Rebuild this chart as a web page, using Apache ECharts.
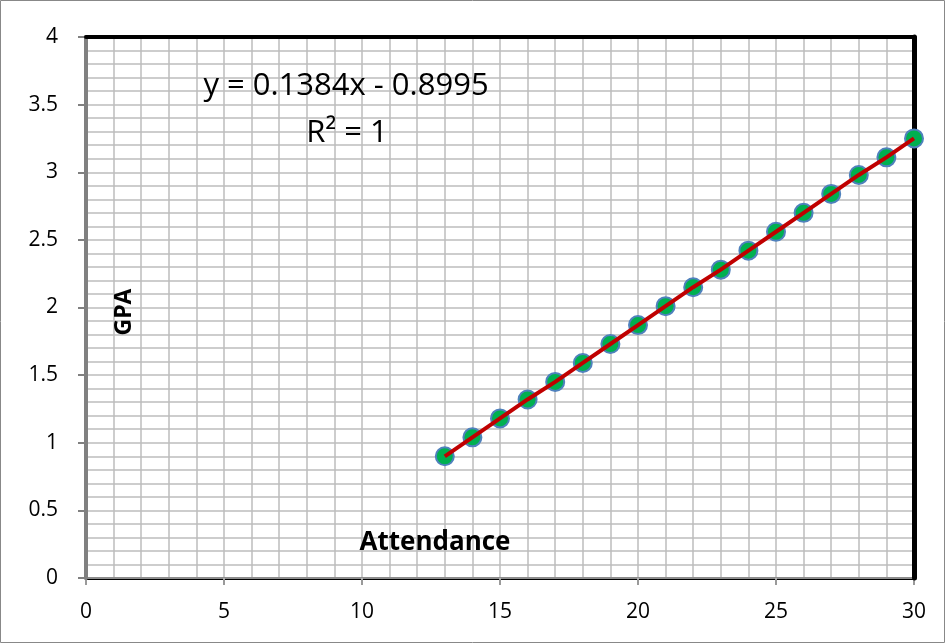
<!DOCTYPE html>
<html><head><meta charset="utf-8">
<script src="https://cdn.jsdelivr.net/npm/echarts@6/dist/echarts.min.js"></script>
<style>html,body{margin:0;padding:0;background:#fff}#c{width:945px;height:643px}</style>
</head><body><div id="c"></div>
<script>
var attendance = [13,14,15,16,17,18,19,20,21,22,23,24,25,26,27,28,29,30];
var gpa = [0.90,1.04,1.18,1.32,1.45,1.59,1.73,1.87,2.01,2.15,2.28,2.42,2.56,2.70,2.84,2.98,3.11,3.25];
var xTicks = [0,5,10,15,20,25,30];
var yTicks = [0,0.5,1,1.5,2,2.5,3,3.5,4];
var equationText = 'y = 0.1384x - 0.8995';
var r2Text = 'R² = 1';
var xTitle = 'Attendance';
var yTitle = 'GPA';

var pts = attendance.map(function(x,i){return [x,gpa[i]];});
var font = 'Open Sans';
var gridCol = '#bdbdbd';
var chart = echarts.init(document.getElementById('c'));
chart.setOption({
  animation:false,
  grid:{left:86,right:31,top:37,bottom:65,show:false},
  xAxis:[{type:'value',min:0,max:30,interval:5,
    axisLine:{show:true,onZero:false,lineStyle:{color:'#000',width:3}},
    axisTick:{show:true,length:7,lineStyle:{color:'#9a9a9a',width:2}},
    axisLabel:{fontFamily:font,fontSize:21,color:'#000',margin:24,
      formatter:function(v){return xTicks.indexOf(v)>=0?String(v):'';}},
    splitLine:{show:true,lineStyle:{color:gridCol,width:1.5}},
    minorTick:{show:false,splitNumber:5},
    minorSplitLine:{show:true,lineStyle:{color:gridCol,width:1.5}},
    z:5
  },{type:'value',min:0,max:30,position:'top',
    axisLine:{show:true,onZero:false,lineStyle:{color:'#000',width:4}},
    axisTick:{show:false},axisLabel:{show:false},splitLine:{show:false},z:20
  }],
  yAxis:[{type:'value',min:0,max:4,interval:0.5,
    axisLine:{show:true,onZero:false,lineStyle:{color:'#808080',width:4}},
    axisTick:{show:true,length:8,lineStyle:{color:'#808080',width:2}},
    axisLabel:{fontFamily:font,fontSize:21,color:'#000',margin:28,
      formatter:function(v){return yTicks.indexOf(v)>=0?String(v):'';}},
    splitLine:{show:true,lineStyle:{color:gridCol,width:1.5}},
    minorTick:{show:false,splitNumber:5},
    minorSplitLine:{show:true,lineStyle:{color:gridCol,width:1.5}},
    z:6
  },{type:'value',min:0,max:4,position:'right',
    axisLine:{show:true,onZero:false,lineStyle:{color:'#000',width:5}},
    axisTick:{show:false},axisLabel:{show:false},splitLine:{show:false},z:20
  }],
  series:[
    {type:'scatter',data:pts,symbolSize:18,itemStyle:{color:'#00b050',borderColor:'#4f81bd',borderWidth:2,opacity:1},z:30},
    {type:'line',data:pts,showSymbol:false,symbol:'none',lineStyle:{color:'#c00000',width:4},z:31}
  ],
  graphic:[
    {type:'rect',shape:{x:0.5,y:0.5,width:944,height:642},style:{fill:'none',stroke:'#888',lineWidth:1},z:100},
    {type:'text',x:346,y:86,style:{text:equationText,textAlign:'center',textVerticalAlign:'middle',font:'31px "'+font+'"',fill:'#000'},z:10},
    {type:'text',x:347,y:133,style:{text:r2Text,textAlign:'center',textVerticalAlign:'middle',font:'31px "'+font+'"',fill:'#000'},z:10},
    {type:'text',x:435,y:543,style:{text:xTitle,textAlign:'center',textVerticalAlign:'middle',font:'bold 26px "'+font+'"',fill:'#000'},z:10},
    {type:'text',rotation:Math.PI/2,x:124,y:312,style:{text:yTitle,textAlign:'center',textVerticalAlign:'middle',font:'bold 23px "'+font+'"',fill:'#000'},z:10}
  ]
});
</script></body></html>
